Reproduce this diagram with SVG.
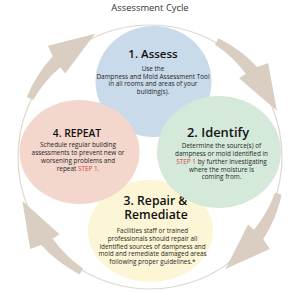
<svg xmlns="http://www.w3.org/2000/svg" xmlns:xlink="http://www.w3.org/1999/xlink" width="300" height="293" viewBox="0 0 300 293">
<style>
text{font-family:"Open Sans","Noto Sans","Liberation Sans",sans-serif;text-anchor:middle;fill:#222}
.ttl{fill:#111;font-weight:600}
.body{font-size:6.4px;fill:#262626}
.red{fill:#d9433e}
.arrow{fill:#d9cec1}
</style>
<defs>
<path id="arr" d="M137,0 A138,138 0 0 1 131.56,47.88 L140.49,55.34 L103.42,86.78 L112.85,37.76 L120.08,41.35 A128,128 0 0 0 130,0 Z"/>
</defs>
<rect width="300" height="293" fill="#fff"/>
<text x="150" y="10.5" style="font-size:9.4px;fill:#333">Assessment Cycle</text>
<circle cx="150" cy="157" r="132" fill="none" stroke="#ddd7cf" stroke-width="1.2"/>
<g id="connectors">
<use xlink:href="#arr" class="arrow" transform="translate(150,157) rotate(-154)"/>
<use xlink:href="#arr" class="arrow" transform="translate(150,157) rotate(-60)"/>
<use xlink:href="#arr" class="arrow" transform="translate(150,157) rotate(16)"/>
<use xlink:href="#arr" class="arrow" transform="translate(150,157) rotate(121)"/>
</g>
<g id="node-assess">
<ellipse cx="153.5" cy="81.5" rx="58" ry="55.5" fill="#c9daeb"/>
<text class="ttl" x="153" y="58" style="font-size:11.5px">1. Assess</text>
<text class="body" x="153" y="71.3">Use the</text>
<text class="body" x="153" y="78.7">Dampness and Mold Assessment Tool</text>
<text class="body" x="153" y="86.1">in all rooms and areas of your</text>
<text class="body" x="153" y="93.5">building(s).</text>
</g>
<g id="node-repair">
<ellipse cx="150.5" cy="231" rx="62.5" ry="51" fill="#fcf6d6"/>
<text class="ttl" x="155.5" y="205" style="font-size:12.2px">3. Repair &amp;</text>
<text class="ttl" x="156" y="218.5" style="font-size:12.2px">Remediate</text>
<text class="body" x="152.5" y="233.3">Facilities staff or trained</text>
<text class="body" x="152.5" y="241">professionals should repair all</text>
<text class="body" x="152.5" y="248.6">identified sources of dampness and</text>
<text class="body" x="152.5" y="256.2">mold and remediate damaged areas</text>
<text class="body" x="152.5" y="263.8">following proper guidelines.*</text>
</g>
<g id="node-repeat">
<ellipse cx="79.5" cy="152" rx="60" ry="52" fill="#f3d6cc"/>
<text class="ttl" x="77" y="137" style="font-size:10.3px">4. REPEAT</text>
<text class="body" x="78" y="147.3">Schedule regular building</text>
<text class="body" x="78" y="155">assessments to prevent new or</text>
<text class="body" x="78" y="162.8">worsening problems and</text>
<text class="body" x="78" y="170.6">repeat <tspan class="red">STEP 1.</tspan></text>
</g>
<g id="node-identify">
<ellipse cx="219" cy="152" rx="62" ry="56" fill="#d5e9da"/>
<text class="ttl" x="218" y="137" style="font-size:12.9px">2. Identify</text>
<text class="body" x="221.5" y="148.3">Determine the source(s) of</text>
<text class="body" x="221.5" y="156">dampness or mold identified in</text>
<text class="body" x="221.5" y="163.8"><tspan class="red">STEP 1</tspan> by further investigating</text>
<text class="body" x="221.5" y="171.6">where the moisture is</text>
<text class="body" x="221.5" y="179.4">coming from.</text>
</g>
</svg>
